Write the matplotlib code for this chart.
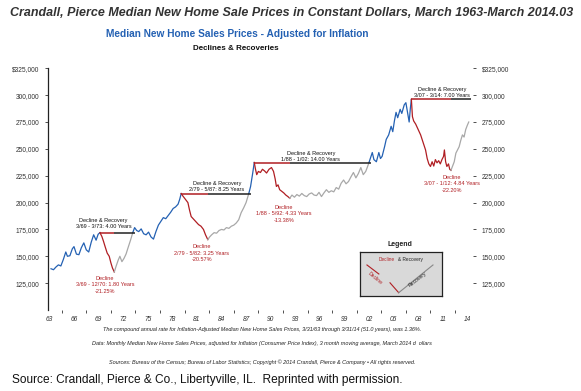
import numpy as np
import matplotlib
matplotlib.use("Agg")
from matplotlib import pyplot as plt
from matplotlib.ticker import FuncFormatter

plt.rcParams['font.family'] = ['Liberation Sans', 'DejaVu Sans']

# median new home price, 2014 dollars (~quarterly)
years = [
    1963.2, 1963.5, 1963.8, 1964.1, 1964.4, 1964.7, 1965.0, 1965.2, 1965.5, 1965.8,
    1966.0, 1966.3, 1966.6, 1966.9, 1967.2, 1967.5, 1967.8, 1968.1, 1968.4, 1968.7,
    1968.95, 1969.17,
    1969.4, 1969.6, 1969.8, 1970.05, 1970.3, 1970.5, 1970.7, 1970.92,
    1971.15, 1971.4, 1971.6, 1971.85, 1972.1, 1972.35, 1972.6, 1972.9, 1973.17,
    1973.4, 1973.65, 1973.9, 1974.2, 1974.5, 1974.8, 1975.1, 1975.4, 1975.7, 1976.0,
    1976.3, 1976.6, 1976.9, 1977.2, 1977.5, 1977.8, 1978.1, 1978.4, 1978.7, 1978.9,
    1979.08,
    1979.3, 1979.6, 1979.9, 1980.1, 1980.3, 1980.6, 1980.9, 1981.2, 1981.5, 1981.8,
    1982.05, 1982.33,
    1982.55, 1982.8, 1983.1, 1983.4, 1983.7, 1984.0, 1984.3, 1984.6, 1984.9, 1985.2,
    1985.5, 1985.8, 1986.1, 1986.4, 1986.7, 1987.0, 1987.33,
    1987.55, 1987.8, 1988.0,
    1988.15, 1988.3, 1988.5, 1988.75, 1989.0, 1989.25, 1989.5, 1989.8, 1990.1, 1990.35,
    1990.55, 1990.7, 1990.9, 1991.1, 1991.35, 1991.6, 1991.85, 1992.1, 1992.33,
    1992.6, 1992.9, 1993.2, 1993.5, 1993.8, 1994.1, 1994.4, 1994.7, 1995.0, 1995.3,
    1995.6, 1995.9, 1996.2, 1996.5, 1996.8, 1997.1, 1997.4, 1997.7, 1998.0, 1998.3,
    1998.6, 1998.9, 1999.2, 1999.5, 1999.8, 2000.1, 2000.4, 2000.7, 2001.0, 2001.3,
    2001.6, 2001.8, 2002.0,
    2002.2, 2002.4, 2002.6, 2002.9, 2003.2, 2003.4, 2003.6, 2003.9, 2004.1, 2004.4,
    2004.7, 2004.9, 2005.1, 2005.3, 2005.5, 2005.8, 2006.0, 2006.3, 2006.5, 2006.7,
    2006.9, 2007.05, 2007.17,
    2007.3, 2007.45, 2007.7, 2008.0, 2008.3, 2008.6, 2008.9, 2009.1, 2009.3, 2009.5,
    2009.7, 2009.9, 2010.1, 2010.3, 2010.5, 2010.7, 2010.9, 2011.1, 2011.2, 2011.35,
    2011.5, 2011.7, 2011.85, 2012.0,
    2012.2, 2012.4, 2012.6, 2012.8, 2013.0, 2013.2, 2013.4, 2013.6, 2013.8, 2014.0,
    2014.17,
]
prices = [
    138400, 137500, 140000, 142000, 141000, 147000, 154000, 150000, 150500, 157000,
    159000, 152000, 151500, 158000, 162500, 156000, 154000, 163000, 170000, 165000,
    170500, 172000,
    168500, 164000, 159000, 153000, 150000, 144000, 139000, 135400,
    141000, 146500, 150000, 145000, 148000, 152000, 158000, 165000, 172000,
    176700, 174000, 173000, 175500, 171000, 170000, 172500, 168000, 166000, 173000,
    179000, 182500, 186000, 185000, 188000, 191000, 194500, 196000, 198500, 203000,
    208400,
    206000, 203000, 200000, 193000, 187000, 184500, 182000, 179500, 178000, 175000,
    170000, 165500,
    168000, 170000, 172000, 171500, 174000, 175000, 174500, 176700, 176000, 178000,
    179000, 181000, 184000, 190600, 195000, 200000, 208400,
    215000, 227000, 237300,
    231000, 226000, 229000, 228000, 231000, 229500, 227500, 231000, 232600, 229000,
    222000, 215000, 216500, 212000, 210500, 209000, 207000, 205600, 204000,
    207000, 205000, 207500, 206000, 208500, 206500, 205600, 208000, 209000, 207000,
    206500, 209500, 205600, 209000, 212000, 209500, 211000, 210000, 214000, 212500,
    218000, 221000, 217500, 219600, 224000, 228000, 223000, 227000, 232600, 226000,
    229000, 233000, 237300,
    242000, 246600, 240000, 238000, 246600, 241000, 243000, 252000, 258800, 263000,
    271000, 266000, 276000, 284000, 279000, 286800, 283000, 291000, 293000, 284000,
    275000, 288000, 296000,
    280000, 276000, 273000, 268000, 263000, 256000, 249000, 241000, 236000, 233600,
    238000, 234000, 240000, 237000, 239000, 236000, 240000, 243000, 249000, 238000,
    233600, 236000, 231000, 230000,
    234000, 238000, 246000, 249000, 252000, 258000, 263000, 261000, 268000, 272000,
    275000,
]

# decline & recovery episodes
peak_dates = [1969.17, 1979.08, 1988.0, 2007.17]
trough_dates = [1970.92, 1982.33, 1992.33, 2012.0]
recovery_dates = [1973.17, 1987.33, 2002.0, 2014.17]
range_labels = ["Decline & Recovery\n3/69 - 3/73: 4.00 Years",
                "Decline & Recovery\n2/79 - 5/87: 8.25 Years",
                "Decline & Recovery\n1/88 - 1/02: 14.00 Years",
                "Decline & Recovery\n3/07 - 3/14: 7.00 Years"]
decline_labels = ["Decline\n3/69 - 12/70: 1.80 Years\n-21.25%",
                  "Decline\n2/79 - 5/82: 3.25 Years\n-20.57%",
                  "Decline\n1/88 - 5/92: 4.33 Years\n-13.38%",
                  "Decline\n3/07 - 1/12: 4.84 Years\n-22.20%"]
# label anchors (year, value)
range_pos = [(1969.6, 175200), (1983.45, 209800), (1994.9, 237800), (2010.9, 297500)]
decline_pos = [(1969.8, 131500), (1981.6, 161000), (1991.6, 197500), (2012.1, 225500)]

yticks = [125000, 150000, 175000, 200000, 225000, 250000, 275000, 300000, 325000]
xticks = list(range(1963, 2015, 3))

BLUE = "#2461b3"
RED = "#b01e23"
GREY = "#a8a8a8"

years = np.array(years)
prices = np.array(prices)

def state(t):
    for p, tr, rc in zip(peak_dates, trough_dates, recovery_dates):
        if p <= t < tr:
            return "decline"
        if tr <= t < rc:
            return "recovery"
    return "rise"

colors = {"rise": BLUE, "decline": RED, "recovery": GREY}

fig = plt.figure(figsize=(5.81, 3.91), dpi=100)
ax = fig.add_axes([48/581, 1-310/391, (473-48)/581, (310-68.3)/391])

# split the series into runs of one state and draw each run
mids = (years[:-1] + years[1:]) / 2
seg_state = [state(m) for m in mids]
start = 0
for i in range(1, len(seg_state) + 1):
    if i == len(seg_state) or seg_state[i] != seg_state[start]:
        ax.plot(years[start:i+1], prices[start:i+1], color=colors[seg_state[start]],
                lw=0.9, solid_joinstyle="round")
        start = i

for p, tr, rc, rl, dl, rp, dp in zip(peak_dates, trough_dates, recovery_dates,
                                     range_labels, decline_labels, range_pos, decline_pos):
    pv = prices[np.argmin(np.abs(years - p))]
    ax.hlines(pv, p, tr, color=RED, lw=1.1)
    ax.hlines(pv, tr, rc + 0.3, color="#222222", lw=1.1)
    ax.text(rp[0], rp[1], rl, ha="center", va="bottom", fontsize=4, linespacing=1.3,
            color="#111111")
    ax.text(dp[0], dp[1], dl, ha="center", va="top", fontsize=4, linespacing=1.3,
            color=RED)

ax.set_xlim(1962.83, 2014.69)
ax.set_ylim(100000, 325000)
for s in ["top", "right", "bottom"]:
    ax.spines[s].set_visible(False)
ax.spines["left"].set_linewidth(0.9)
ax.spines["left"].set_color("#222222")

fmt = FuncFormatter(lambda v, _: ("$" if v == 325000 else "") + "{:,.0f}".format(v))
ax.set_yticks(yticks)
ax.yaxis.set_major_formatter(fmt)
ax.tick_params(axis="y", length=2, width=0.6, labelsize=4.8, pad=4, colors="#333333")

ax.set_xticks(xticks)
ax.set_xticklabels(["{:02d}".format(y % 100) for y in xticks], fontstyle="italic")
ax.set_xticks(np.arange(1964.5, 2015, 1.5), minor=True)
ax.tick_params(axis="x", which="major", length=0, labelsize=4.8, pad=4, colors="#333333")
ax.tick_params(axis="x", which="minor", length=2.5, width=0.6, color="#333333")

ax2 = ax.twinx()
ax2.set_ylim(ax.get_ylim())
ax2.set_yticks(yticks)
ax2.yaxis.set_major_formatter(fmt)
ax2.tick_params(axis="y", length=2.5, width=0.6, labelsize=4.8, pad=4, colors="#333333")
for s in ax2.spines.values():
    s.set_visible(False)

# legend box
fig.text(400/581, 1-245/391, "Legend", ha="center", va="center", fontsize=5,
         fontweight="bold", color="#222222")
lg = fig.add_axes([360/581, 1-296/391, 82/581, 44/391])
lg.set_facecolor("#d9d9d9")
lg.set_xticks([])
lg.set_yticks([])
for s in lg.spines.values():
    s.set_linewidth(0.9)
    s.set_color("#222222")
lg.set_xlim(0, 1)
lg.set_ylim(0, 1)
lg.text(0.23, 0.84, "Decline", color=RED, fontsize=3.4, va="center")
lg.text(0.46, 0.84, "& Recovery", color="#222222", fontsize=3.4, va="center")
lg.plot([0.085, 0.23], [0.705, 0.5], color=RED, lw=0.8)
lg.plot([0.366, 0.472], [0.30, 0.075], color=RED, lw=0.8)
lg.plot([0.472, 0.89], [0.075, 0.705], color="#888888", lw=0.8)
lg.text(0.19, 0.40, "Decline", color=RED, fontsize=3.6, rotation=-40,
        ha="center", va="center")
lg.text(0.70, 0.37, "Recovery", color="#222222", fontsize=3.6, rotation=38,
        ha="center", va="center")

# titles and notes
fig.text(292/581, 1-13/391,
         "Crandall, Pierce Median New Home Sale Prices in Constant Dollars, March 1963-March 2014.03",
         ha="center", va="center", fontsize=9.0, fontweight="bold", fontstyle="italic",
         color="#333333")
fig.text(237/581, 1-34/391, "Median New Home Sales Prices - Adjusted for Inflation",
         ha="center", va="center", fontsize=7.3, fontweight="bold", color="#2461b3",
         family=["Liberation Sans Narrow", "Liberation Sans"])
fig.text(236/581, 1-48/391, "Declines & Recoveries", ha="center", va="center",
         fontsize=5.8, fontweight="bold", color="#111111")

notes = [
    (330, "The compound annual rate for Inflation-Adjusted Median New Home Sales Prices, "
          "3/31/63 through 3/31/14 (51.0 years), was 1.36%."),
    (343, "Data: Monthly Median New Home Sales Prices, adjusted for Inflation (Consumer Price Index), "
          "3 month moving average, March 2014 d  ollars"),
    (362, "Sources: Bureau of the Census; Bureau of Labor Statistics; Copyright \u00a9 2014 "
          "Crandall, Pierce & Company \u2022 All rights reserved."),
]
for y, t in notes:
    fig.text(262/581, 1-y/391, t, ha="center", va="center", fontsize=4,
             fontstyle="italic", color="#222222")

fig.text(12/581, 1-380/391,
         "Source: Crandall, Pierce & Co., Libertyville, IL.  Reprinted with permission.",
         ha="left", va="center", fontsize=8.6, color="#111111")

fig.savefig("out.png", dpi=100)
